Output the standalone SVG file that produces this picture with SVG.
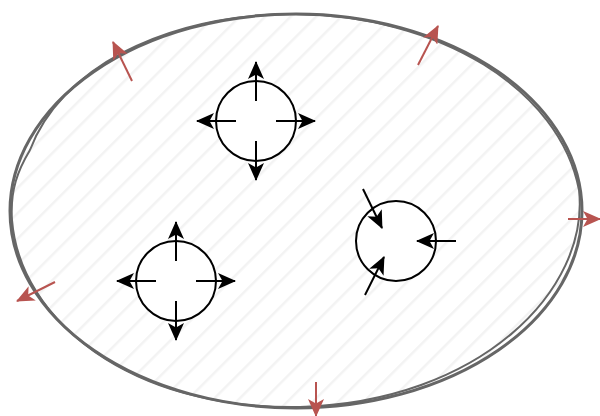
<svg xmlns="http://www.w3.org/2000/svg" width="600" height="416" viewBox="0 0 600 416">
<defs>
<pattern id="hatch" width="18" height="18" patternUnits="userSpaceOnUse" patternTransform="rotate(45)">
<rect width="18" height="18" fill="#ffffff"/>
<line x1="0" y1="0" x2="0" y2="18" stroke="#f3f3f3" stroke-width="5"/>
</pattern>
<marker id="blk" viewBox="0 0 18 16" markerWidth="18" markerHeight="16" refX="17" refY="8" orient="auto" markerUnits="userSpaceOnUse">
<path d="M0,0 L18,8 L0,16 L4.5,8 Z" fill="#000"/>
</marker>
<marker id="red" viewBox="0 0 18 16" markerWidth="18" markerHeight="16" refX="17" refY="8" orient="auto" markerUnits="userSpaceOnUse">
<path d="M0,0 L18,8 L0,16 L4.5,8 Z" fill="#b85450"/>
</marker>
</defs>
<style>
.node{fill:#ffffff;stroke:#000;stroke-width:2}
.a{stroke:#000;stroke-width:2;fill:none;marker-end:url(#blk)}
.r{stroke:#b85450;stroke-width:2;fill:none;marker-end:url(#red)}
.sk{fill:none;stroke:#666666}
</style>
<g id="region">
<ellipse cx="296" cy="211" rx="286" ry="197" fill="url(#hatch)" stroke="#666666" stroke-width="3"/>
<path class="sk" stroke-width="2" d="M30,150 C60,70 160,16 290,14 C440,14 560,90 579,190 C590,290 480,402 300,407 C130,410 20,320 12,220 C10,190 18,170 30,150"/>
</g>
<g id="pump1"><circle class="node" cx="256" cy="121" r="40"/></g>
<g id="pump2"><circle class="node" cx="176" cy="281" r="40"/></g>
<g id="sink"><circle class="node" cx="396" cy="241" r="40"/></g>
<g id="connectors">
<line class="a" x1="256" y1="101" x2="256" y2="62"/>
<line class="a" x1="256" y1="141" x2="256" y2="180"/>
<line class="a" x1="236" y1="121" x2="197" y2="121"/>
<line class="a" x1="276" y1="121" x2="315" y2="121"/>
<line class="a" x1="176" y1="261" x2="176" y2="222"/>
<line class="a" x1="176" y1="301" x2="176" y2="340"/>
<line class="a" x1="156" y1="281" x2="117" y2="281"/>
<line class="a" x1="196" y1="281" x2="235" y2="281"/>
<line class="a" x1="456" y1="241" x2="417" y2="241"/>
<line class="a" x1="363" y1="189" x2="382" y2="228"/>
<line class="a" x1="365" y1="295" x2="384" y2="257"/>
<line class="r" x1="132" y1="81" x2="113" y2="42"/>
<line class="r" x1="418" y1="65" x2="438" y2="26"/>
<line class="r" x1="568" y1="219" x2="600" y2="219"/>
<line class="r" x1="55" y1="282" x2="17" y2="301"/>
<line class="r" x1="316" y1="382" x2="316" y2="416"/>
</g>
</svg>
